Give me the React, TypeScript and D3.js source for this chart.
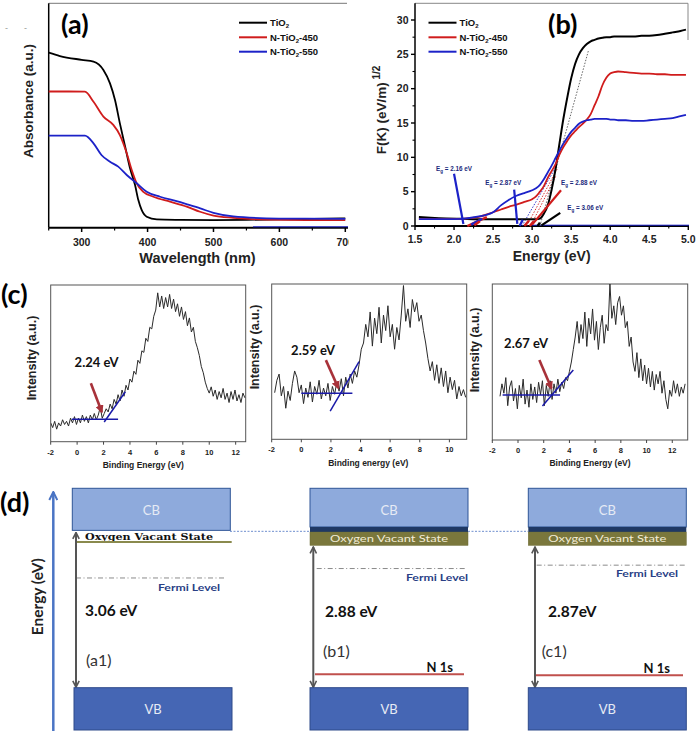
import React from "react";
import * as d3 from "d3";

const FA = "'Liberation Sans', Arial, Helvetica, sans-serif";
const FC = "Lato, 'Open Sans', sans-serif";

// ---------------- (a) UV-Vis absorbance ----------------
const legendParts = [["TiO", "2", ""], ["N-TiO", "2", "-450"], ["N-TiO", "2", "-550"]];
const seriesColors = ["#000000", "#d01c1c", "#1c22c8"];
const waveTiO2 = [250, 267, 300, 318, 333, 343, 350.6, 358, 366, 373.4, 381, 386, 391, 398.7, 414, 450, 500, 550, 600, 650, 700];
const absTiO2 = [0.78, 0.765, 0.748, 0.74, 0.703, 0.643, 0.569, 0.465, 0.361, 0.265, 0.19, 0.123, 0.079, 0.049, 0.037, 0.035, 0.034, 0.035, 0.037, 0.039, 0.042];
const wave450 = [250, 280, 305, 318, 333, 348, 358, 368.4, 376, 383.5, 393.6, 408.8, 434, 459.4, 479.6, 500, 530, 580, 640, 700];
const abs450 = [0.607, 0.607, 0.606, 0.561, 0.495, 0.458, 0.413, 0.332, 0.257, 0.198, 0.16, 0.138, 0.116, 0.094, 0.071, 0.054, 0.044, 0.036, 0.034, 0.034];
const wave550 = [250, 280, 305, 318, 330, 343, 355.5, 368.4, 383.5, 398.7, 419, 444, 460, 480, 500, 530, 580, 640, 700];
const abs550 = [0.41, 0.41, 0.41, 0.376, 0.324, 0.294, 0.272, 0.235, 0.198, 0.16, 0.138, 0.118, 0.104, 0.086, 0.066, 0.05, 0.042, 0.04, 0.039];
const aMajor = [300, 400, 500, 600, 700];
const aMinor = [250, 350, 450, 550, 650];

// ---------------- (b) Kubelka-Munk ----------------
const energyB = [1.55, 1.7, 1.9, 2.1, 2.3, 2.5, 2.6, 2.7, 2.8, 2.9, 3.0, 3.05, 3.1, 3.15, 3.2, 3.25, 3.3, 3.35, 3.4, 3.45, 3.5, 3.55, 3.6, 3.65, 3.7, 3.75, 3.8, 3.85, 3.9, 3.95, 4.0, 4.05, 4.1, 4.2, 4.3, 4.4, 4.5, 4.6, 4.7, 4.8, 4.9, 4.97];
const fkTiO2 = [1.3, 1.2, 1.1, 1.05, 1.0, 1.0, 1.0, 1.0, 1.0, 1.0, 1.0, 1.0, 1.1, 1.8, 3.0, 5.3, 8.3, 12.0, 15.6, 18.7, 21.5, 23.6, 25.0, 25.9, 26.5, 26.9, 27.1, 27.3, 27.4, 27.5, 27.5, 27.6, 27.6, 27.6, 27.6, 27.7, 27.7, 27.8, 28.0, 28.2, 28.4, 28.6];
const fk450 = [1.0, 1.0, 1.0, 1.05, 1.3, 2.0, 2.4, 2.8, 3.1, 3.5, 3.9, 4.3, 5.0, 5.8, 7.0, 8.0, 9.0, 10.4, 11.5, 12.4, 13.2, 13.8, 14.4, 14.9, 15.5, 16.3, 17.6, 18.9, 20.5, 21.6, 22.2, 22.4, 22.5, 22.4, 22.3, 22.2, 22.2, 22.1, 22.1, 22.0, 22.0, 22.0];
const fk550 = [1.0, 1.0, 1.0, 1.05, 1.35, 2.0, 3.0, 3.8, 4.4, 4.8, 5.2, 5.5, 6.0, 6.8, 7.8, 8.8, 9.9, 11.0, 12.0, 12.9, 13.7, 14.3, 14.9, 15.2, 15.4, 15.5, 15.6, 15.6, 15.6, 15.6, 15.5, 15.5, 15.4, 15.4, 15.3, 15.3, 15.4, 15.5, 15.6, 15.7, 16.0, 16.2];
const bTicksX = [1.5, 2.0, 2.5, 3.0, 3.5, 4.0, 4.5, 5.0];
const bTicksY = [0, 5, 10, 15, 20, 25, 30];
const egValues = ["2.16", "2.87", "2.88", "3.06"];
const egLabelX = [2.0, 2.63, 3.6, 3.68];
const egLabelY = [8.3, 6.2, 6.2, 2.6];
const egPointers = [[2.0, 7.6, 2.12, 0.3], [2.77, 5.3, 2.81, 0.3], [3.37, 5.2, 3.0, 0.2], [3.36, 1.9, 3.12, 0.1]];
const egPointerColors = ["#1c22c8", "#1c22c8", "#d01c1c", "#000000"];
const tailTangents = [[2.17, 0, 2.42, 1.3], [2.22, 0.2, 2.36, 1.05], [2.26, 0.1, 2.33, 0.7], [2.84, 0, 2.88, 0.9], [2.9, 0, 2.96, 0.8], [2.97, 0, 3.02, 0.7], [3.07, 0, 3.1, 0.5]];
const tailColors = ["#d01c1c", "#1c22c8", "#d01c1c", "#1c22c8", "#d01c1c", "#d01c1c", "#000000"];
const dottedTangents = [[2.87, 0, 3.3, 8.5], [2.93, 0, 3.33, 8.5], [2.98, 0, 3.3, 7.2], [3.1, 0, 3.72, 25.5]];
const dottedColors = ["#1c22c8", "#d01c1c", "#d01c1c", "#555555"];

// ---------------- (c) VB-XPS ----------------
const specStart = [-2, -1.8, -1.4];
const specStep = 0.15;
const spec1 = [12, 9, 13, 8, 12, 10, 14, 11, 13, 10, 15, 12, 16, 11, 15, 12, 17, 13, 16, 12, 17, 14, 18, 14, 17, 22, 15, 18, 21, 19, 24, 21, 27, 24, 30, 26, 33, 29, 36, 33, 40, 38, 45, 43, 52, 50, 58, 57, 66, 64, 73, 72, 80, 84, 95, 86, 93, 85, 92, 86, 94, 85, 91, 83, 88, 80, 86, 78, 83, 74, 79, 70, 73, 64, 60, 55, 48, 44, 38, 34, 31, 35, 29, 33, 27, 32, 28, 34, 27, 31, 25, 32, 27, 33, 26, 30, 25, 31, 28];
const spec2 = [30, 38, 42, 28, 34, 20, 31, 25, 36, 44, 40, 30, 35, 23, 33, 27, 37, 24, 34, 29, 38, 26, 33, 28, 36, 25, 34, 29, 37, 31, 39, 28, 40, 33, 42, 36, 44, 40, 48, 58, 62, 74, 66, 82, 60, 78, 68, 85, 62, 80, 70, 86, 66, 74, 58, 72, 64, 80, 99, 76, 84, 72, 90, 82, 88, 76, 80, 70, 62, 52, 44, 50, 38, 48, 36, 46, 34, 44, 30, 40, 32, 38, 26, 34, 28, 32, 27];
const spec3 = [28, 36, 30, 40, 22, 34, 38, 25, 33, 20, 35, 27, 39, 23, 32, 21, 36, 26, 34, 24, 37, 29, 38, 22, 35, 28, 38, 26, 36, 30, 39, 31, 37, 33, 40, 38, 44, 50, 58, 66, 76, 62, 74, 65, 82, 60, 78, 68, 84, 64, 76, 58, 72, 80, 62, 74, 70, 100, 78, 86, 74, 88, 92, 80, 86, 72, 76, 60, 66, 50, 44, 56, 40, 52, 38, 48, 36, 46, 34, 44, 32, 42, 36, 44, 30, 38, 26, 20, 32, 28, 38, 30, 36, 28, 34, 30, 36];
const specLabels = ["2.24 eV", "2.59 eV", "2.67 eV"];
const specXTitles = ["Binding Energy (eV)", "Binding energy (eV)", "Binding Energy (eV)"];
const specMaxE = [12.76, 11.17, 13.2];
const specTicks = [[-2, 0, 2, 4, 6, 8, 10, 12], [-2, 0, 2, 4, 6, 8, 10], [-2, 0, 2, 4, 6, 8, 10, 12]];
const baseLines = [[-0.4, 14.3, 3.1, 14.3], [0, 29.6, 3.45, 29.6], [-1.2, 28.8, 3.27, 28.8]];
const slopeLines = [[2.05, 12.6, 3.65, 31.9], [1.95, 18.2, 3.9, 50], [1.9, 21.8, 4.3, 44.9]];
const arrowLines = [[1.04, 37.3, 1.87, 19], [1.66, 51, 2.5, 33], [1.66, 51.3, 2.6, 33.1]];

// ---------------- (d) band diagram ----------------
const gapLabels = ["3.06 eV", "2.88 eV", "2.87eV"];
const tagLabels = ["(a1)", "(b1)", "(c1)"];
const cbBottom = [8.26, 8.4, 8.4];
const arrowTop = [8.17, 7.57, 7.57];
const fermiLevel = [6.29, 6.68, 6.82];
const fermiText = [5.88, 6.29, 6.47];
const n1sLevel = [NaN, 2.31, 2.27];

export default function App() {
  const xA = d3.scaleLinear().domain([250, 700]).range([48.7, 345.3]);
  const yA = d3.scaleLinear().domain([0, 1]).range([227.7, 3.3]);
  const lineA = (xs: number[], ys: number[]) =>
    d3.line<number>().x((_, i) => xA(xs[i])).y((d) => yA(d)).curve(d3.curveMonotoneX)(ys) || "";
  const aSeries = [[waveTiO2, absTiO2], [wave450, abs450], [wave550, abs550]];

  const xB = d3.scaleLinear().domain([1.5, 5.0]).range([415, 688.3]);
  const yB = d3.scaleLinear().domain([0, 30]).range([226, 20]);
  const lineB = (ys: number[]) =>
    d3.line<number>().x((_, i) => xB(energyB[i])).y((d) => yB(d)).curve(d3.curveMonotoneX)(ys) || "";
  const bSeries = [fkTiO2, fk450, fk550];

  const frames = [
    { x0: 50.7, x1: 245.7, y0: 285, y1: 441.7, ylx: 31.7, yly: 358, xlx: 143.3, xly: 465, lx: 96.5, ly: 361.7 },
    { x0: 271.7, x1: 466.7, y0: 284, y1: 439.3, ylx: 255, yly: 347, xlx: 368.3, xly: 463.3, lx: 313, ly: 350 },
    { x0: 492.3, x1: 687.7, y0: 284, y1: 440, ylx: 475, yly: 350, xlx: 590, xly: 463.3, lx: 526, ly: 343.3 },
  ];
  const specs = [spec1, spec2, spec3];

  const yD = d3.scaleLinear().domain([0, 10]).range([730, 488.3]);
  const cols = [
    { x: 72.3, ax: 76, fx0: 76, fx1: 225, fr: 220, gx: 85, tx: 86, nx0: 0, nx1: 0, nr: 0, gy: 4.96, ty: 2.89 },
    { x: 310, ax: 313.3, fx0: 316.7, fx1: 465, fr: 468, gx: 325, tx: 323, nx0: 315, nx1: 464, nr: 453, gy: 4.9, ty: 3.24 },
    { x: 528.3, ax: 535, fx0: 536.7, fx1: 685, fr: 678, gx: 548, tx: 541.7, nx0: 535, nx1: 683, nr: 670, gy: 4.9, ty: 3.24 },
  ];
  const bw = 158;

  const legendRow = (x0: number, i: number) => {
    const y = [22.7, 37.3, 51.7][i];
    const p = legendParts[i];
    return (
      <g key={"lg" + x0 + i}>
        <line x1={x0} x2={x0 + 28} y1={y} y2={y} stroke={seriesColors[i]} strokeWidth={2} />
        <text x={x0 + 31} y={y + 3.5} fontFamily={FA} fontWeight="bold" fontSize={9.5} fill="#111">
          {p[0]}
          <tspan fontSize={6} dy={2}>{p[1]}</tspan>
          <tspan dy={-2}>{p[2]}</tspan>
        </text>
      </g>
    );
  };

  return (
    <svg width={698} height={735} style={{ position: "absolute", left: 0, top: 0, background: "#fff" }} xmlns="http://www.w3.org/2000/svg">
      <defs>
        <clipPath id="clipA"><rect x={0} y={0} width={349} height={270} /></clipPath>
        <clipPath id="clipB"><rect x={415} y={0} width={275} height={227} /></clipPath>
        {frames.map((f, i) => (
          <clipPath id={"clipC" + i} key={"cc" + i}>
            <rect x={f.x0} y={f.y0} width={f.x1 - f.x0} height={f.y1 - f.y0} />
          </clipPath>
        ))}
        <marker id="redHead" viewBox="0 0 10 10" refX="8" refY="5" markerWidth="3.2" markerHeight="3.2" orient="auto">
          <path d="M0,0 L10,5 L0,10 z" fill="#a8323a" />
        </marker>
        <marker id="grayHead" viewBox="0 0 10 10" refX="9" refY="5" markerWidth="4" markerHeight="4" orient="auto-start-reverse">
          <path d="M1,1 L9,5 L1,9" fill="none" stroke="#555" strokeWidth="2" />
        </marker>
        <marker id="blueHead" viewBox="0 0 10 10" refX="9" refY="5" markerWidth="4" markerHeight="4" orient="auto">
          <path d="M1,1 L9,5 L1,9" fill="none" stroke="#4a74c4" strokeWidth="2" />
        </marker>
      </defs>

      {/* ====== (a) ====== */}
      <text x={5} y={31} fontFamily={FA} fontSize={9} fill="#999">-</text>
      <text x={24} y={31} fontFamily={FA} fontSize={9} fill="#999">-</text>
      <g clipPath="url(#clipA)">
        <line x1={48.7} x2={347} y1={3.3} y2={3.3} stroke="#777" strokeWidth={1} />
        <line x1={48.7} x2={48.7} y1={3.3} y2={227.7} stroke="#000" strokeWidth={1.5} />
        <line x1={48.7} x2={348} y1={227.7} y2={227.7} stroke="#000" strokeWidth={2} />
        <line x1={xA(560)} x2={348} y1={226.8} y2={226.8} stroke="#1c22c8" strokeWidth={1} />
        {aMajor.map((t) => (
          <g key={"am" + t}>
            <line x1={xA(t)} x2={xA(t)} y1={227.7} y2={232} stroke="#000" strokeWidth={1.5} />
            <text x={xA(t)} y={245.5} textAnchor="middle" fontFamily={FA} fontWeight="bold" fontSize={10.5} fill="#222">{t}</text>
          </g>
        ))}
        {aMinor.map((t) => (
          <line key={"an" + t} x1={xA(t)} x2={xA(t)} y1={227.7} y2={230.5} stroke="#000" strokeWidth={1.2} />
        ))}
        {aSeries.map((s, i) => (
          <path key={"as" + i} d={lineA(s[0], s[1])} fill="none" stroke={seriesColors[i]} strokeWidth={1.8} />
        ))}
      </g>
      <text x={61} y={34} fontFamily={FC} fontWeight="bold" fontSize={27} fill="#000">(a)</text>
      {[0, 1, 2].map((i) => legendRow(239, i))}
      <text transform="translate(33,101) rotate(-90)" textAnchor="middle" fontFamily={FA} fontWeight="bold" fontSize={13.5} fill="#222">Absorbance (a.u.)</text>
      <text x={197.5} y={263} textAnchor="middle" fontFamily={FA} fontWeight="bold" fontSize={14.5} fill="#222">Wavelength (nm)</text>

      {/* ====== (b) ====== */}
      <line x1={415} x2={688} y1={3.3} y2={3.3} stroke="#888" strokeWidth={1} />
      <line x1={688} x2={688} y1={3.3} y2={40} stroke="#888" strokeWidth={1} />
      <line x1={415} x2={415} y1={3.3} y2={226} stroke="#000" strokeWidth={1.5} />
      <line x1={415} x2={689} y1={226} y2={226} stroke="#000" strokeWidth={2} />
      <line x1={xB(3.0)} x2={689} y1={225.2} y2={225.2} stroke="#1c22c8" strokeWidth={1} />
      {bTicksX.map((t) => (
        <g key={"bx" + t}>
          <line x1={xB(t)} x2={xB(t)} y1={226} y2={230} stroke="#000" strokeWidth={1.4} />
          <text x={xB(t)} y={243} textAnchor="middle" fontFamily={FA} fontWeight="bold" fontSize={10.5} fill="#222">{t.toFixed(1)}</text>
        </g>
      ))}
      {bTicksX.slice(0, -1).map((t) => (
        <line key={"bxm" + t} x1={xB(t + 0.25)} x2={xB(t + 0.25)} y1={226} y2={228.5} stroke="#000" strokeWidth={1.1} />
      ))}
      {bTicksY.map((t) => (
        <g key={"by" + t}>
          <line x1={411} x2={415} y1={yB(t)} y2={yB(t)} stroke="#000" strokeWidth={1.4} />
          <text x={408.5} y={yB(t) + 3.8} textAnchor="end" fontFamily={FA} fontWeight="bold" fontSize={10.5} fill="#222">{t}</text>
        </g>
      ))}
      {bTicksY.slice(0, -1).map((t) => (
        <line key={"bym" + t} x1={412.5} x2={415} y1={yB(t + 2.5)} y2={yB(t + 2.5)} stroke="#000" strokeWidth={1.1} />
      ))}
      <g clipPath="url(#clipB)">
        {dottedTangents.map((l, i) => (
          <line key={"dt" + i} x1={xB(l[0])} y1={yB(l[1])} x2={xB(l[2])} y2={yB(l[3])} stroke={dottedColors[i]} strokeWidth={0.9} strokeDasharray="1.5,1.5" />
        ))}
        {bSeries.map((s, i) => (
          <path key={"bs" + i} d={lineB(s)} fill="none" stroke={seriesColors[i]} strokeWidth={i === 0 ? 2 : 1.8} />
        ))}
        {tailTangents.map((l, i) => (
          <line key={"tt" + i} x1={xB(l[0])} y1={yB(l[1])} x2={xB(l[2])} y2={yB(l[3])} stroke={tailColors[i]} strokeWidth={2.4} />
        ))}
        {egPointers.map((l, i) => (
          <line key={"ep" + i} x1={xB(l[0])} y1={yB(l[1])} x2={xB(l[2])} y2={yB(l[3])} stroke={egPointerColors[i]} strokeWidth={2.2} />
        ))}
      </g>
      {egValues.map((v, i) => (
        <text key={"eg" + i} x={xB(egLabelX[i])} y={yB(egLabelY[i]) + 2} textAnchor="middle" fontFamily={FA} fontWeight="bold" fontSize={6.3} fill="#1b2a7c">
          E<tspan fontSize={4.5} dy={1.5}>g</tspan><tspan dy={-1.5}>{" = " + v + " eV"}</tspan>
        </text>
      ))}
      <text x={548} y={34} fontFamily={FC} fontWeight="bold" fontSize={27} fill="#000">(b)</text>
      {[0, 1, 2].map((i) => legendRow(428.5, i))}
      <text transform="translate(386,110) rotate(-90)" textAnchor="middle" fontFamily={FA} fontWeight="bold" fontSize={13.5} fill="#222">
        F(K) (eV/m)<tspan fontSize={10} dy={-6}>{" 1/2"}</tspan>
      </text>
      <text x={551.7} y={261} textAnchor="middle" fontFamily={FA} fontWeight="bold" fontSize={14} fill="#222">Energy (eV)</text>

      {/* ====== (c) ====== */}
      <text x={1} y={304} fontFamily={FC} fontWeight="bold" fontSize={27} fill="#000">(c)</text>
      {frames.map((f, k) => {
        const xs = d3.scaleLinear().domain([-2, specMaxE[k]]).range([f.x0, f.x1]);
        const ys = d3.scaleLinear().domain([0, 100]).range([f.y1, f.y0]);
        const path = d3.line<number>().x((_, i) => xs(specStart[k] + i * specStep)).y((d) => ys(d))(specs[k]) || "";
        const bl = baseLines[k], sl = slopeLines[k], ar = arrowLines[k];
        return (
          <g key={"c" + k}>
            <rect x={f.x0} y={f.y0} width={f.x1 - f.x0} height={f.y1 - f.y0} fill="none" stroke="#555" strokeWidth={1} />
            {specTicks[k].map((t) => (
              <g key={"ct" + t}>
                <line x1={xs(t)} x2={xs(t)} y1={f.y1} y2={f.y1 + 3} stroke="#444" strokeWidth={1} />
                <text x={xs(t)} y={f.y1 + 13} textAnchor="middle" fontFamily={FA} fontWeight="bold" fontSize={7.5} fill="#222">{t}</text>
              </g>
            ))}
            <g clipPath={`url(#clipC${k})`}>
              <path d={path} fill="none" stroke="#2a2a2a" strokeWidth={1} />
            </g>
            <line x1={xs(bl[0])} y1={ys(bl[1])} x2={xs(bl[2])} y2={ys(bl[3])} stroke="#1a1aa8" strokeWidth={1.5} />
            <line x1={xs(sl[0])} y1={ys(sl[1])} x2={xs(sl[2])} y2={ys(sl[3])} stroke="#1a1aa8" strokeWidth={1.5} />
            <line x1={xs(ar[0])} y1={ys(ar[1])} x2={xs(ar[2])} y2={ys(ar[3])} stroke="#a8323a" strokeWidth={2.6} markerEnd="url(#redHead)" />
            <text x={f.lx} y={f.ly + 5} textAnchor="middle" fontFamily={FC} fontWeight="bold" fontSize={13} fill="#111">{specLabels[k]}</text>
            <text x={f.xlx} y={f.xly + 3} textAnchor="middle" fontFamily={FA} fontWeight="bold" fontSize={8.5} fill="#222">{specXTitles[k]}</text>
            <text transform={`translate(${f.ylx + 4},${f.yly}) rotate(-90)`} textAnchor="middle" fontFamily={FA} fontWeight="bold" fontSize={12.5} fill="#222">Intensity (a.u.)</text>
          </g>
        );
      })}

      {/* ====== (d) ====== */}
      <text x={0} y={512} fontFamily={FC} fontWeight="bold" fontSize={27} fill="#000">(d)</text>
      <line x1={53.3} x2={53.3} y1={731} y2={492} stroke="#4a74c4" strokeWidth={2.5} markerEnd="url(#blueHead)" />
      <text transform="translate(42.5,596.7) rotate(-90)" textAnchor="middle" fontFamily={FC} fontWeight="bold" fontSize={16} fill="#222" textLength={77} lengthAdjust="spacingAndGlyphs">Energy (eV)</text>
      <line x1={230} x2={528} y1={yD(8.22)} y2={yD(8.22)} stroke="#6f8fcf" strokeWidth={1} strokeDasharray="2,1.5" />
      {cols.map((c, k) => (
        <g key={"d" + k}>
          <rect x={c.x} y={yD(10)} width={bw} height={yD(cbBottom[k]) - yD(10)} fill="#8eaadc" stroke="#2f5597" strokeWidth={1} />
          <text x={c.x + bw / 2} y={yD(9.1) + 4.5} textAnchor="middle" fontFamily={FC} fontSize={13} fill="#e6ebf5">CB</text>
          {k === 0 ? (
            <g>
              <text x={85} y={yD(8.0) + 3.5} fontFamily="'DejaVu Serif', serif" fontWeight="bold" fontSize={10} fill="#111" textLength={128} lengthAdjust="spacingAndGlyphs">Oxygen Vacant State</text>
              <line x1={75} x2={231.7} y1={yD(7.78)} y2={yD(7.78)} stroke="#8a8a4e" strokeWidth={2} />
            </g>
          ) : (
            <g>
              <rect x={c.x} y={yD(8.4)} width={bw} height={yD(8.19) - yD(8.4)} fill="#1f3864" />
              <rect x={c.x} y={yD(8.19)} width={bw} height={yD(7.64) - yD(8.19)} fill="#7a773c" stroke="#6a6830" strokeWidth={0.5} />
              <text x={c.x + bw / 2} y={yD(7.915) + 3.5} textAnchor="middle" fontFamily={FC} fontSize={10} fill="#f2ecd6" textLength={118} lengthAdjust="spacingAndGlyphs">Oxygen Vacant State</text>
            </g>
          )}
          <line x1={c.fx0} x2={c.fx1} y1={yD(fermiLevel[k])} y2={yD(fermiLevel[k])} stroke="#8a8a8a" strokeWidth={1} strokeDasharray="5,2.5,1,2.5" />
          <text x={c.fr} y={yD(fermiText[k]) + 3} textAnchor="end" fontFamily={FC} fontWeight="bold" fontSize={8.5} fill="#2a3f86" textLength={62} lengthAdjust="spacingAndGlyphs">Fermi Level</text>
          <text x={c.gx} y={yD(c.gy) + 5.5} fontFamily={FC} fontWeight="bold" fontSize={15.5} fill="#111">{gapLabels[k]}</text>
          <text x={c.tx} y={yD(c.ty) + 5.5} fontFamily={FC} fontSize={16} fill="#333">{tagLabels[k]}</text>
          {k > 0 && (
            <g>
              <line x1={c.nx0} x2={c.nx1} y1={yD(n1sLevel[k])} y2={yD(n1sLevel[k])} stroke="#c0504d" strokeWidth={2} />
              <text x={c.nr} y={yD(n1sLevel[k]) - 2} textAnchor="end" fontFamily={FC} fontWeight="bold" fontSize={13} fill="#111">N 1s</text>
            </g>
          )}
          <line x1={c.ax} x2={c.ax} y1={yD(arrowTop[k])} y2={yD(1.77)} stroke="#555" strokeWidth={2} markerStart="url(#grayHead)" markerEnd="url(#grayHead)" />
          <rect x={c.x + (k === 0 ? 1.7 : 0)} y={yD(1.75)} width={bw} height={yD(0) - yD(1.75)} fill="#4566b4" stroke="#2e4a8a" strokeWidth={1} />
          <text x={c.x + bw / 2 + (k === 0 ? 1.7 : 0)} y={yD(0.85) + 4.5} textAnchor="middle" fontFamily={FC} fontSize={13} fill="#e6ebf5">VB</text>
        </g>
      ))}
    </svg>
  );
}
